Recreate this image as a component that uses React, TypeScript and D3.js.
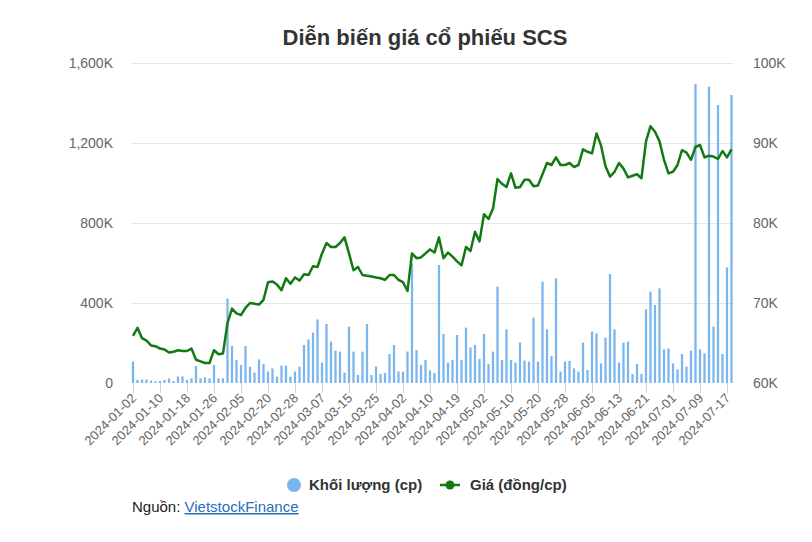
import React, { useEffect, useRef } from 'react';
import * as d3 from 'd3';

// trading sessions 2024-01-02 .. 2024-07-18
const dates: string[] = [
  '2024-01-02', '2024-01-03', '2024-01-04', '2024-01-05', '2024-01-08', '2024-01-09', '2024-01-10', '2024-01-11',
  '2024-01-12', '2024-01-15', '2024-01-16', '2024-01-17', '2024-01-18', '2024-01-19', '2024-01-22', '2024-01-23',
  '2024-01-24', '2024-01-25', '2024-01-26', '2024-01-29', '2024-01-30', '2024-01-31', '2024-02-01', '2024-02-02',
  '2024-02-05', '2024-02-06', '2024-02-07', '2024-02-15', '2024-02-16', '2024-02-19', '2024-02-20', '2024-02-21',
  '2024-02-22', '2024-02-23', '2024-02-26', '2024-02-27', '2024-02-28', '2024-02-29', '2024-03-01', '2024-03-04',
  '2024-03-05', '2024-03-06', '2024-03-07', '2024-03-08', '2024-03-11', '2024-03-12', '2024-03-13', '2024-03-14',
  '2024-03-15', '2024-03-18', '2024-03-19', '2024-03-20', '2024-03-21', '2024-03-22', '2024-03-25', '2024-03-26',
  '2024-03-27', '2024-03-28', '2024-03-29', '2024-04-01', '2024-04-02', '2024-04-03', '2024-04-04', '2024-04-05',
  '2024-04-08', '2024-04-09', '2024-04-10', '2024-04-11', '2024-04-12', '2024-04-15', '2024-04-16', '2024-04-17',
  '2024-04-19', '2024-04-22', '2024-04-23', '2024-04-24', '2024-04-25', '2024-04-26', '2024-05-02', '2024-05-03',
  '2024-05-06', '2024-05-07', '2024-05-08', '2024-05-09', '2024-05-10', '2024-05-13', '2024-05-14', '2024-05-15',
  '2024-05-16', '2024-05-17', '2024-05-20', '2024-05-21', '2024-05-22', '2024-05-23', '2024-05-24', '2024-05-27',
  '2024-05-28', '2024-05-29', '2024-05-30', '2024-05-31', '2024-06-03', '2024-06-04', '2024-06-05', '2024-06-06',
  '2024-06-07', '2024-06-10', '2024-06-11', '2024-06-12', '2024-06-13', '2024-06-14', '2024-06-17', '2024-06-18',
  '2024-06-19', '2024-06-20', '2024-06-21', '2024-06-24', '2024-06-25', '2024-06-26', '2024-06-27', '2024-06-28',
  '2024-07-01', '2024-07-02', '2024-07-03', '2024-07-04', '2024-07-05', '2024-07-08', '2024-07-09', '2024-07-10',
  '2024-07-11', '2024-07-12', '2024-07-15', '2024-07-16', '2024-07-17', '2024-07-18',
];

// Khối lượng (cp), in thousands
const volumeK: number[] = [
  107, 15, 17, 17, 12, 8, 10, 15, 23, 10, 33, 33, 15, 23, 85, 23, 28, 23, 90, 23,
  23, 422, 185, 115, 90, 185, 82, 52, 118, 95, 57, 73, 32, 87, 87, 32, 57, 82, 190, 218,
  252, 318, 102, 295, 207, 162, 157, 52, 282, 157, 40, 157, 295, 40, 82, 45, 50, 145, 190, 58,
  57, 157, 598, 165, 90, 115, 63, 50, 590, 245, 102, 115, 240, 115, 277, 178, 190, 120, 245, 95,
  157, 482, 115, 268, 115, 102, 202, 112, 107, 327, 107, 507, 268, 135, 523, 57, 107, 110, 73, 57,
  202, 65, 257, 248, 98, 227, 545, 268, 102, 202, 207, 45, 95, 45, 368, 457, 390, 473, 168, 173,
  98, 68, 145, 82, 162, 1495, 168, 148, 1482, 282, 1390, 145, 578, 1440,
];

// Giá (đồng/cp), in thousands
const priceK: number[] = [
  65.9, 66.9, 65.6, 65.3, 64.7, 64.6, 64.3, 64.2, 63.8, 63.9, 64.1, 64.0, 64.0, 64.3, 62.9, 62.7, 62.5, 62.5, 64.1, 63.6,
  63.7, 67.5, 69.3, 68.7, 68.5, 69.4, 70.0, 69.9, 69.8, 70.4, 72.6, 72.7, 72.3, 71.6, 73.1, 72.4, 73.2, 72.8, 73.6, 73.5,
  74.6, 74.5, 76.2, 77.5, 77.0, 77.0, 77.5, 78.2, 76.2, 74.1, 74.5, 73.5, 73.4, 73.3, 73.2, 73.1, 72.9, 73.5, 73.5, 72.9,
  72.6, 71.5, 76.2, 75.6, 75.7, 76.2, 76.7, 76.3, 78.2, 75.6, 76.3, 75.8, 75.2, 74.7, 77.0, 76.5, 78.9, 77.7, 81.1, 80.5,
  81.8, 85.5, 84.9, 84.5, 86.2, 84.4, 84.5, 85.4, 85.4, 84.6, 84.7, 86.1, 87.5, 87.25, 88.2, 87.25, 87.25, 87.5, 87.0, 87.25,
  89.2, 88.9, 88.7, 91.2, 89.7, 87.1, 85.8, 86.4, 87.5, 86.8, 85.7, 85.9, 86.1, 85.6, 90.2, 92.1, 91.4, 90.2, 87.9, 86.2,
  86.4, 87.25, 89.1, 88.8, 87.9, 89.5, 89.75, 88.2, 88.4, 88.3, 88.0, 89.0, 88.2, 89.2,
];

const volumeTicks = [0, 400000, 800000, 1200000, 1600000];
const priceTicks = [60000, 70000, 80000, 90000, 100000];

const title = 'Diễn biến giá cổ phiếu SCS';
const volumeName = 'Khối lượng (cp)';
const priceName = 'Giá (đồng/cp)';

const BAR = '#7cb5ec';
const LINE = '#137a13';
const FONT = 'Arial, "Liberation Sans", Helvetica, sans-serif';

const App: React.FC = () => {
  const ref = useRef<SVGSVGElement>(null);

  useEffect(() => {
    if (!ref.current) return;
    const W = 812, H = 542;
    const left = 130.75, right = 733.75, top = 63, bottom = 383;

    const svg = d3.select(ref.current);
    svg.selectAll('*').remove();
    svg.attr('width', W).attr('height', H);

    svg.append('rect').attr('width', W).attr('height', H).attr('fill', '#fff');

    const rows = dates.map((d, i) => ({ date: d, vol: volumeK[i] * 1000, price: priceK[i] * 1000 }));

    const x = d3.scaleBand<string>().domain(dates).range([left, right]).paddingInner(0.5).paddingOuter(0.25);
    const yVol = d3.scaleLinear().domain([0, 1600000]).range([bottom, top]);
    const yPrice = d3.scaleLinear().domain([60000, 100000]).range([bottom, top]);
    const cx = (d: string) => (x(d) as number) + x.bandwidth() / 2;

    // title
    svg.append('text')
      .attr('x', 425).attr('y', 45)
      .attr('text-anchor', 'middle')
      .attr('font-family', FONT).attr('font-size', 22).attr('font-weight', 'bold')
      .attr('fill', '#333')
      .text(title);

    // grid
    svg.append('g').selectAll('line').data(volumeTicks.slice(1)).join('line')
      .attr('x1', left).attr('x2', right)
      .attr('y1', d => Math.round(yVol(d)) + 0.5).attr('y2', d => Math.round(yVol(d)) + 0.5)
      .attr('stroke', '#e6e6e6');

    // left axis labels
    const fmt = d3.format(',');
    svg.append('g').selectAll('text').data(volumeTicks).join('text')
      .attr('x', 113).attr('y', d => yVol(d) + 5)
      .attr('text-anchor', 'end')
      .attr('font-family', FONT).attr('font-size', 14).attr('fill', '#666')
      .text(d => (d === 0 ? '0' : fmt(d / 1000) + 'K'));

    // right axis labels
    svg.append('g').selectAll('text').data(priceTicks).join('text')
      .attr('x', 753).attr('y', d => yPrice(d) + 5)
      .attr('text-anchor', 'start')
      .attr('font-family', FONT).attr('font-size', 14).attr('fill', '#666')
      .text(d => fmt(d / 1000) + 'K');

    // x ticks and labels
    const tickDates = dates.filter((_, i) => i % 6 === 0);
    svg.append('g').selectAll('line').data(tickDates).join('line')
      .attr('x1', d => Math.round(cx(d)) + 0.5).attr('x2', d => Math.round(cx(d)) + 0.5)
      .attr('y1', bottom).attr('y2', bottom + 10)
      .attr('stroke', '#ccd6eb');
    svg.append('g').selectAll('text').data(tickDates).join('text')
      .attr('transform', d => `translate(${cx(d) + 4},${bottom + 16}) rotate(-45)`)
      .attr('text-anchor', 'end')
      .attr('font-family', FONT).attr('font-size', 13).attr('fill', '#666')
      .text(d => d);

    // volume bars
    svg.append('g').selectAll('rect').data(rows).join('rect')
      .attr('x', d => x(d.date) as number)
      .attr('width', x.bandwidth())
      .attr('y', d => yVol(d.vol))
      .attr('height', d => bottom - yVol(d.vol))
      .attr('fill', BAR);

    // price line
    const line = d3.line<{ date: string; price: number }>()
      .x(d => cx(d.date))
      .y(d => yPrice(d.price));
    svg.append('path')
      .datum(rows)
      .attr('fill', 'none')
      .attr('stroke', LINE)
      .attr('stroke-width', 2.5)
      .attr('stroke-linejoin', 'round')
      .attr('d', line);

    // legend
    const lg = svg.append('g').attr('font-family', FONT).attr('font-size', 15).attr('font-weight', 'bold').attr('fill', '#333');
    lg.append('circle').attr('cx', 294).attr('cy', 485).attr('r', 7).attr('fill', BAR);
    lg.append('text').attr('x', 309).attr('y', 490).text(volumeName);
    lg.append('line').attr('x1', 440).attr('x2', 460).attr('y1', 485).attr('y2', 485)
      .attr('stroke', LINE).attr('stroke-width', 2.5);
    lg.append('circle').attr('cx', 450).attr('cy', 485).attr('r', 4.5).attr('fill', LINE);
    lg.append('text').attr('x', 470).attr('y', 490).text(priceName);

    // source
    const src = svg.append('text').attr('x', 132).attr('y', 512)
      .attr('font-family', FONT).attr('font-size', 15).attr('fill', '#222');
    src.append('tspan').text('Nguồn: ');
    src.append('tspan').attr('fill', '#2a6ebb').attr('text-decoration', 'underline').text('VietstockFinance');
  }, []);

  return (
    <svg ref={ref} style={{ position: 'absolute', left: 0, top: 0, display: 'block' }} />
  );
};

export default App;
